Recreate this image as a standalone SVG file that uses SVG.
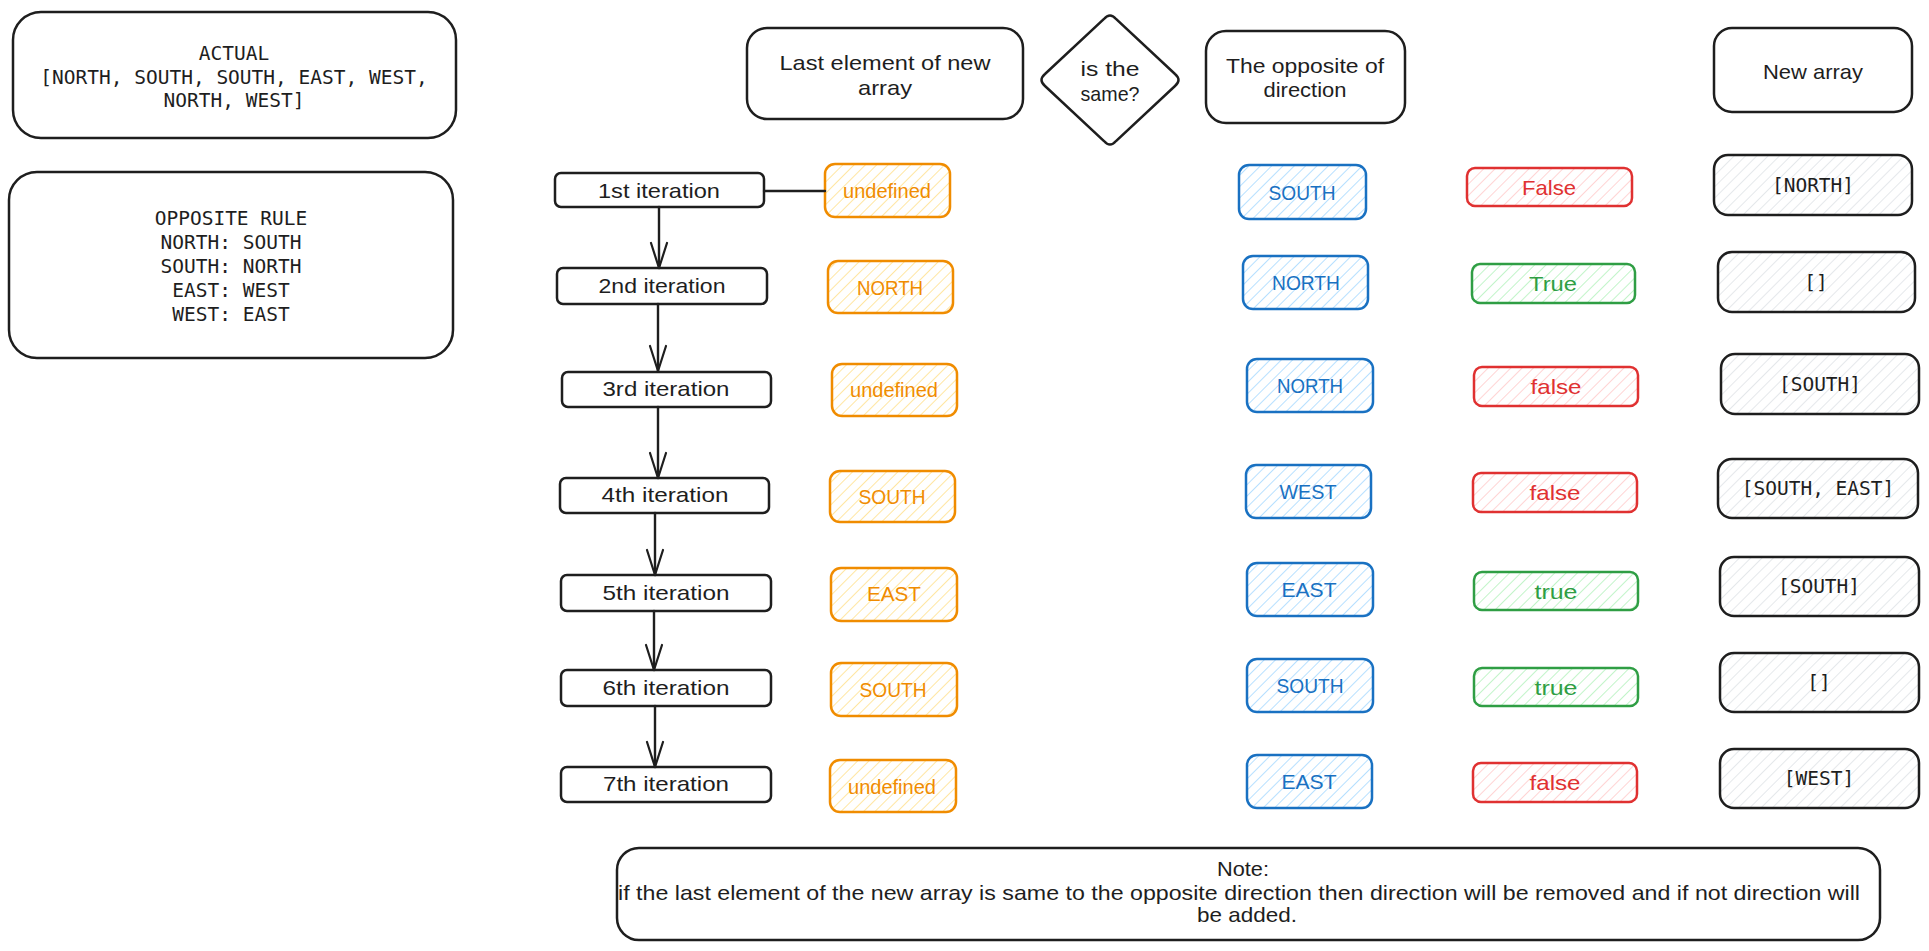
<svg xmlns="http://www.w3.org/2000/svg" width="1929" height="951" viewBox="0 0 1929 951">
<defs>
<pattern id="hO" patternUnits="userSpaceOnUse" width="8" height="8" patternTransform="rotate(45)"><line x1="0" y1="0" x2="0" y2="8" stroke="#ffe08a" stroke-width="1.6"/></pattern>
<pattern id="hB" patternUnits="userSpaceOnUse" width="8" height="8" patternTransform="rotate(45)"><line x1="0" y1="0" x2="0" y2="8" stroke="#a5d8ff" stroke-width="1.6"/></pattern>
<pattern id="hR" patternUnits="userSpaceOnUse" width="8" height="8" patternTransform="rotate(45)"><line x1="0" y1="0" x2="0" y2="8" stroke="#ffc9c9" stroke-width="1.6"/></pattern>
<pattern id="hG" patternUnits="userSpaceOnUse" width="8" height="8" patternTransform="rotate(45)"><line x1="0" y1="0" x2="0" y2="8" stroke="#b2f2bb" stroke-width="1.6"/></pattern>
<pattern id="hK" patternUnits="userSpaceOnUse" width="8" height="8" patternTransform="rotate(45)"><line x1="0" y1="0" x2="0" y2="8" stroke="#dee2e6" stroke-width="1.6"/></pattern>
<marker id="arr" markerUnits="userSpaceOnUse" markerWidth="30" markerHeight="24" refX="0" refY="0" viewBox="-28 -12 30 24" orient="auto" overflow="visible">
<path d="M-25,-8 L0,0 L-25,8" fill="none" stroke="#1e1e1e" stroke-width="2.2" stroke-linecap="round" stroke-linejoin="round"/>
</marker>
<style>
.k{fill:none;stroke:#1e1e1e;stroke-width:2.5}
.o{fill:url(#hO);stroke:#f08c00;stroke-width:2.5}
.b{fill:url(#hB);stroke:#1971c2;stroke-width:2.5}
.r{fill:url(#hR);stroke:#e03131;stroke-width:2.5}
.g{fill:url(#hG);stroke:#2f9e44;stroke-width:2.5}
.a{fill:url(#hK);stroke:#1e1e1e;stroke-width:2.5}
text{dominant-baseline:central;text-anchor:middle}
.h{font-family:"Liberation Sans",Arial,sans-serif;font-size:21px;fill:#1e1e1e}
.m{font-family:"DejaVu Sans Mono","Liberation Mono",monospace;font-size:19.5px;fill:#1e1e1e}
.to{fill:#f08c00}
.tb{fill:#1971c2}
.tr{fill:#e03131}
.tg{fill:#2f9e44}
.c{fill:none;stroke:#1e1e1e;stroke-width:2.4;stroke-linecap:round}
</style>
</defs>
<rect width="1929" height="951" fill="#ffffff"/>

<g id="actual">
<rect class="k" x="13" y="12" width="443" height="126" rx="28"/>
<text class="m" x="234" y="53">ACTUAL</text>
<text class="m" x="234" y="77">[NORTH, SOUTH, SOUTH, EAST, WEST,</text>
<text class="m" x="234" y="100">NORTH, WEST]</text>
</g>
<g id="opposite-rule">
<rect class="k" x="9" y="172" width="444" height="186" rx="28"/>
<text class="m" x="231" y="218">OPPOSITE RULE</text>
<text class="m" x="231" y="242">NORTH: SOUTH</text>
<text class="m" x="231" y="266">SOUTH: NORTH</text>
<text class="m" x="231" y="290">EAST: WEST</text>
<text class="m" x="231" y="314">WEST: EAST</text>
</g>

<g id="hdr-last">
<rect class="k" x="747" y="28" width="276" height="91" rx="20"/>
<text class="h" x="885" y="62" textLength="211" lengthAdjust="spacingAndGlyphs">Last element of new</text>
<text class="h" x="885" y="87" textLength="54" lengthAdjust="spacingAndGlyphs">array</text>
</g>
<g id="hdr-same">
<path class="k" d="M1104,19 Q1110,12 1116,19 L1175,74 Q1182,80 1175,86 L1116,141 Q1110,148 1104,141 L1045,86 Q1038,80 1045,74 Z"/>
<text class="h" x="1110" y="68" textLength="59" lengthAdjust="spacingAndGlyphs">is the</text>
<text class="h" x="1110" y="93" textLength="59" lengthAdjust="spacingAndGlyphs">same?</text>
</g>
<g id="hdr-opposite">
<rect class="k" x="1206" y="31" width="199" height="92" rx="20"/>
<text class="h" x="1305" y="65" textLength="158" lengthAdjust="spacingAndGlyphs">The opposite of</text>
<text class="h" x="1305" y="89" textLength="83" lengthAdjust="spacingAndGlyphs">direction</text>
</g>
<g id="hdr-new">
<rect class="k" x="1714" y="28" width="198" height="84" rx="18"/>
<text class="h" x="1813" y="71" textLength="100" lengthAdjust="spacingAndGlyphs">New array</text>
</g>

<g id="it1"><rect class="k" x="555" y="173" width="209" height="34" rx="6"/><text class="h" x="659" y="190" textLength="122" lengthAdjust="spacingAndGlyphs">1st iteration</text></g>
<g id="it2"><rect class="k" x="557" y="268" width="210" height="36" rx="6"/><text class="h" x="662" y="285" textLength="127" lengthAdjust="spacingAndGlyphs">2nd iteration</text></g>
<g id="it3"><rect class="k" x="562" y="372" width="209" height="35" rx="6"/><text class="h" x="666" y="388" textLength="127" lengthAdjust="spacingAndGlyphs">3rd iteration</text></g>
<g id="it4"><rect class="k" x="560" y="478" width="209" height="35" rx="6"/><text class="h" x="665" y="494" textLength="127" lengthAdjust="spacingAndGlyphs">4th iteration</text></g>
<g id="it5"><rect class="k" x="561" y="575" width="210" height="36" rx="6"/><text class="h" x="666" y="592" textLength="127" lengthAdjust="spacingAndGlyphs">5th iteration</text></g>
<g id="it6"><rect class="k" x="561" y="670" width="210" height="36" rx="6"/><text class="h" x="666" y="687" textLength="127" lengthAdjust="spacingAndGlyphs">6th iteration</text></g>
<g id="it7"><rect class="k" x="561" y="767" width="210" height="35" rx="6"/><text class="h" x="666" y="783" textLength="126" lengthAdjust="spacingAndGlyphs">7th iteration</text></g>

<g id="last1"><rect class="o" x="825" y="164" width="125" height="53" rx="10"/><text class="h to" x="887" y="190" textLength="88" lengthAdjust="spacingAndGlyphs">undefined</text></g>
<g id="last2"><rect class="o" x="828" y="261" width="125" height="52" rx="10"/><text class="h to" x="890" y="287" textLength="66" lengthAdjust="spacingAndGlyphs">NORTH</text></g>
<g id="last3"><rect class="o" x="832" y="364" width="125" height="52" rx="10"/><text class="h to" x="894" y="389" textLength="88" lengthAdjust="spacingAndGlyphs">undefined</text></g>
<g id="last4"><rect class="o" x="830" y="471" width="125" height="51" rx="10"/><text class="h to" x="892" y="496" textLength="67" lengthAdjust="spacingAndGlyphs">SOUTH</text></g>
<g id="last5"><rect class="o" x="831" y="568" width="126" height="53" rx="10"/><text class="h to" x="894" y="593" textLength="54" lengthAdjust="spacingAndGlyphs">EAST</text></g>
<g id="last6"><rect class="o" x="831" y="663" width="126" height="53" rx="10"/><text class="h to" x="893" y="689" textLength="67" lengthAdjust="spacingAndGlyphs">SOUTH</text></g>
<g id="last7"><rect class="o" x="830" y="760" width="126" height="52" rx="10"/><text class="h to" x="892" y="786" textLength="88" lengthAdjust="spacingAndGlyphs">undefined</text></g>

<g id="opp1"><rect class="b" x="1239" y="165" width="127" height="54" rx="10"/><text class="h tb" x="1302" y="192" textLength="67" lengthAdjust="spacingAndGlyphs">SOUTH</text></g>
<g id="opp2"><rect class="b" x="1243" y="256" width="125" height="53" rx="10"/><text class="h tb" x="1306" y="282" textLength="68" lengthAdjust="spacingAndGlyphs">NORTH</text></g>
<g id="opp3"><rect class="b" x="1247" y="359" width="126" height="53" rx="10"/><text class="h tb" x="1310" y="385" textLength="66" lengthAdjust="spacingAndGlyphs">NORTH</text></g>
<g id="opp4"><rect class="b" x="1246" y="465" width="125" height="53" rx="10"/><text class="h tb" x="1308" y="491" textLength="57" lengthAdjust="spacingAndGlyphs">WEST</text></g>
<g id="opp5"><rect class="b" x="1247" y="563" width="126" height="53" rx="10"/><text class="h tb" x="1309" y="589" textLength="55" lengthAdjust="spacingAndGlyphs">EAST</text></g>
<g id="opp6"><rect class="b" x="1247" y="659" width="126" height="53" rx="10"/><text class="h tb" x="1310" y="685" textLength="67" lengthAdjust="spacingAndGlyphs">SOUTH</text></g>
<g id="opp7"><rect class="b" x="1247" y="755" width="125" height="53" rx="10"/><text class="h tb" x="1309" y="781" textLength="55" lengthAdjust="spacingAndGlyphs">EAST</text></g>

<g id="same1"><rect class="r" x="1467" y="168" width="165" height="38" rx="8"/><text class="h tr" x="1549" y="187" textLength="54" lengthAdjust="spacingAndGlyphs">False</text></g>
<g id="same2"><rect class="g" x="1472" y="264" width="163" height="39" rx="8"/><text class="h tg" x="1553" y="283" textLength="48" lengthAdjust="spacingAndGlyphs">True</text></g>
<g id="same3"><rect class="r" x="1474" y="367" width="164" height="39" rx="8"/><text class="h tr" x="1556" y="386" textLength="51" lengthAdjust="spacingAndGlyphs">false</text></g>
<g id="same4"><rect class="r" x="1473" y="473" width="164" height="39" rx="8"/><text class="h tr" x="1555" y="492" textLength="51" lengthAdjust="spacingAndGlyphs">false</text></g>
<g id="same5"><rect class="g" x="1474" y="572" width="164" height="38" rx="8"/><text class="h tg" x="1556" y="591" textLength="43" lengthAdjust="spacingAndGlyphs">true</text></g>
<g id="same6"><rect class="g" x="1474" y="668" width="164" height="38" rx="8"/><text class="h tg" x="1556" y="687" textLength="43" lengthAdjust="spacingAndGlyphs">true</text></g>
<g id="same7"><rect class="r" x="1473" y="763" width="164" height="39" rx="8"/><text class="h tr" x="1555" y="782" textLength="51" lengthAdjust="spacingAndGlyphs">false</text></g>

<g id="arr1"><rect class="a" x="1714" y="155" width="198" height="60" rx="14"/><text class="m" x="1813" y="185">[NORTH]</text></g>
<g id="arr2"><rect class="a" x="1718" y="252" width="197" height="60" rx="14"/><text class="m" x="1816" y="282">[]</text></g>
<g id="arr3"><rect class="a" x="1721" y="354" width="198" height="60" rx="14"/><text class="m" x="1820" y="384">[SOUTH]</text></g>
<g id="arr4"><rect class="a" x="1718" y="459" width="200" height="59" rx="14"/><text class="m" x="1818" y="488">[SOUTH, EAST]</text></g>
<g id="arr5"><rect class="a" x="1720" y="557" width="199" height="59" rx="14"/><text class="m" x="1819" y="586">[SOUTH]</text></g>
<g id="arr6"><rect class="a" x="1720" y="653" width="199" height="59" rx="14"/><text class="m" x="1819" y="682">[]</text></g>
<g id="arr7"><rect class="a" x="1720" y="749" width="199" height="59" rx="14"/><text class="m" x="1819" y="778">[WEST]</text></g>

<g id="note">
<rect class="k" x="617" y="848" width="1263" height="92" rx="22"/>
<text class="h" x="1243" y="868" textLength="52" lengthAdjust="spacingAndGlyphs">Note:</text>
<text class="h" x="1239" y="892" textLength="1242" lengthAdjust="spacingAndGlyphs">if the last element of the new array is same to the opposite direction then direction will be removed and if not direction will</text>
<text class="h" x="1247" y="914" textLength="100" lengthAdjust="spacingAndGlyphs">be added.</text>
</g>

<g id="connectors">
<path class="c" d="M764,191 L825,191" stroke-width="3.2"/>
<path class="c" d="M659,207 L659,268" marker-end="url(#arr)"/>
<path class="c" d="M658,304 L658,371" marker-end="url(#arr)"/>
<path class="c" d="M658,407 L658,478" marker-end="url(#arr)"/>
<path class="c" d="M655,513 L655,575" marker-end="url(#arr)"/>
<path class="c" d="M654,611 L654,670" marker-end="url(#arr)"/>
<path class="c" d="M655,706 L655,767" marker-end="url(#arr)"/>
</g>
</svg>
